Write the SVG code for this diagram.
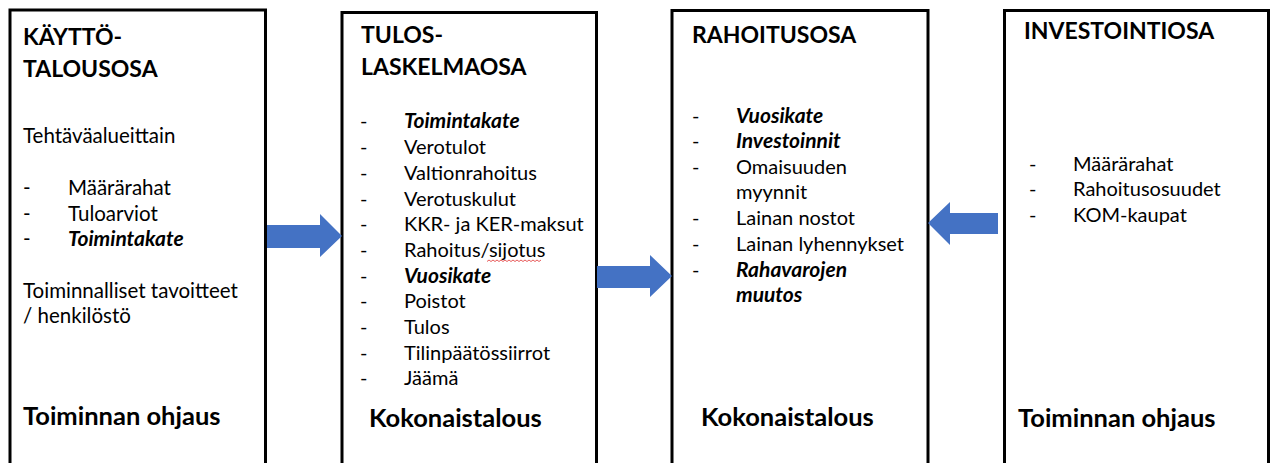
<svg xmlns="http://www.w3.org/2000/svg" width="1270" height="463" viewBox="0 0 1270 463">
<style>
.box{fill:#fff;stroke:#000;stroke-width:3}
text{font-family:Lato,"Open Sans","Liberation Sans",sans-serif;fill:#000}
.h{font-size:23px;font-weight:bold}
.t{font-size:20px}
.t1{font-size:20.5px}
.bi{font-weight:bold;font-style:italic;font-size:21px}
.f{font-size:25.5px;font-weight:bold}
.arr{fill:#4472C4}
</style>
<rect width="1270" height="463" fill="#fff"/>
<g id="kayttotalousosa">
<rect class="box" x="10" y="10" width="255.5" height="470"/>
<text class="h" x="23" y="45">KÄYTTÖ-</text>
<text class="h" x="23" y="77">TALOUSOSA</text>
<g class="t1">
<text x="23" y="143">Tehtäväalueittain</text>
<text x="23" y="195">-</text><text x="68" y="195">Määrärahat</text>
<text x="23" y="221">-</text><text x="68" y="221">Tuloarviot</text>
<text x="23" y="246">-</text><text class="bi" x="68" y="246">Toimintakate</text>
<text x="23" y="298">Toiminnalliset tavoitteet</text>
<text x="23" y="323">/ henkilöstö</text>
</g>
<text class="f" x="23" y="425">Toiminnan ohjaus</text>
</g>
<g id="tuloslaskelmaosa">
<rect class="box" x="342" y="12.5" width="254.5" height="470"/>
<text class="h" x="361" y="43">TULOS-</text>
<text class="h" x="361" y="75">LASKELMAOSA</text>
<g class="t">
<text x="360" y="128">-</text><text class="bi" x="404" y="128">Toimintakate</text>
<text x="360" y="154">-</text><text x="404" y="154">Verotulot</text>
<text x="360" y="180">-</text><text x="404" y="180">Valtionrahoitus</text>
<text x="360" y="206">-</text><text x="404" y="206">Verotuskulut</text>
<text x="360" y="231">-</text><text x="404" y="231">KKR- ja KER-maksut</text>
<text x="360" y="257">-</text><text x="404" y="257">Rahoitus/sijotus</text>
<text x="360" y="283">-</text><text class="bi" x="404" y="283">Vuosikate</text>
<text x="360" y="308">-</text><text x="404" y="308">Poistot</text>
<text x="360" y="334">-</text><text x="404" y="334">Tulos</text>
<text x="360" y="360">-</text><text x="404" y="360">Tilinpäätössiirrot</text>
<text x="360" y="385">-</text><text x="404" y="385">Jäämä</text>
</g>
<path d="M487 261.5 l2 -1.5 l2 1.5 l2 -1.5 l2 1.5 l2 -1.5 l2 1.5 l2 -1.5 l2 1.5 l2 -1.5 l2 1.5 l2 -1.5 l2 1.5 l2 -1.5 l2 1.5 l2 -1.5 l2 1.5 l2 -1.5 l2 1.5 l2 -1.5 l2 1.5 l2 -1.5 l2 1.5 l2 -1.5 l2 1.5 l2 -1.5 l2 1.5 l2 -1.5" fill="none" stroke="#e03030" stroke-width="0.8"/>
<text class="f" x="369" y="427">Kokonaistalous</text>
</g>
<g id="rahoitusosa">
<rect class="box" x="672" y="10.5" width="256" height="470"/>
<text class="h" x="692" y="43">RAHOITUSOSA</text>
<g class="t">
<text x="692" y="123">-</text><text class="bi" x="736" y="123">Vuosikate</text>
<text x="692" y="148">-</text><text class="bi" x="736" y="148">Investoinnit</text>
<text x="692" y="174">-</text><text x="736" y="174">Omaisuuden</text>
<text x="736" y="199">myynnit</text>
<text x="692" y="225">-</text><text x="736" y="225">Lainan nostot</text>
<text x="692" y="251">-</text><text x="736" y="251">Lainan lyhennykset</text>
<text x="692" y="277">-</text><text class="bi" x="736" y="277">Rahavarojen</text>
<text class="bi" x="736" y="302">muutos</text>
</g>
<text class="f" x="701" y="426">Kokonaistalous</text>
</g>
<g id="investointiosa">
<rect class="box" x="1004.5" y="10.5" width="264" height="470"/>
<text class="h" x="1024" y="39">INVESTOINTIOSA</text>
<g class="t">
<text x="1029" y="171">-</text><text x="1073" y="171">Määrärahat</text>
<text x="1029" y="196">-</text><text x="1073" y="196">Rahoitusosuudet</text>
<text x="1029" y="222">-</text><text x="1073" y="222">KOM-kaupat</text>
</g>
<text class="f" x="1018" y="427">Toiminnan ohjaus</text>
</g>
<g id="connectors">
<polygon class="arr" points="267,225 320,225 320,214 342,236 320,257 320,248 267,248"/>
<polygon class="arr" points="597,266 650,266 650,255 672,276 650,297 650,288 597,288"/>
<polygon class="arr" points="998,213 950,213 950,202 928,223 950,245 950,234 998,234"/>
</g>
</svg>
